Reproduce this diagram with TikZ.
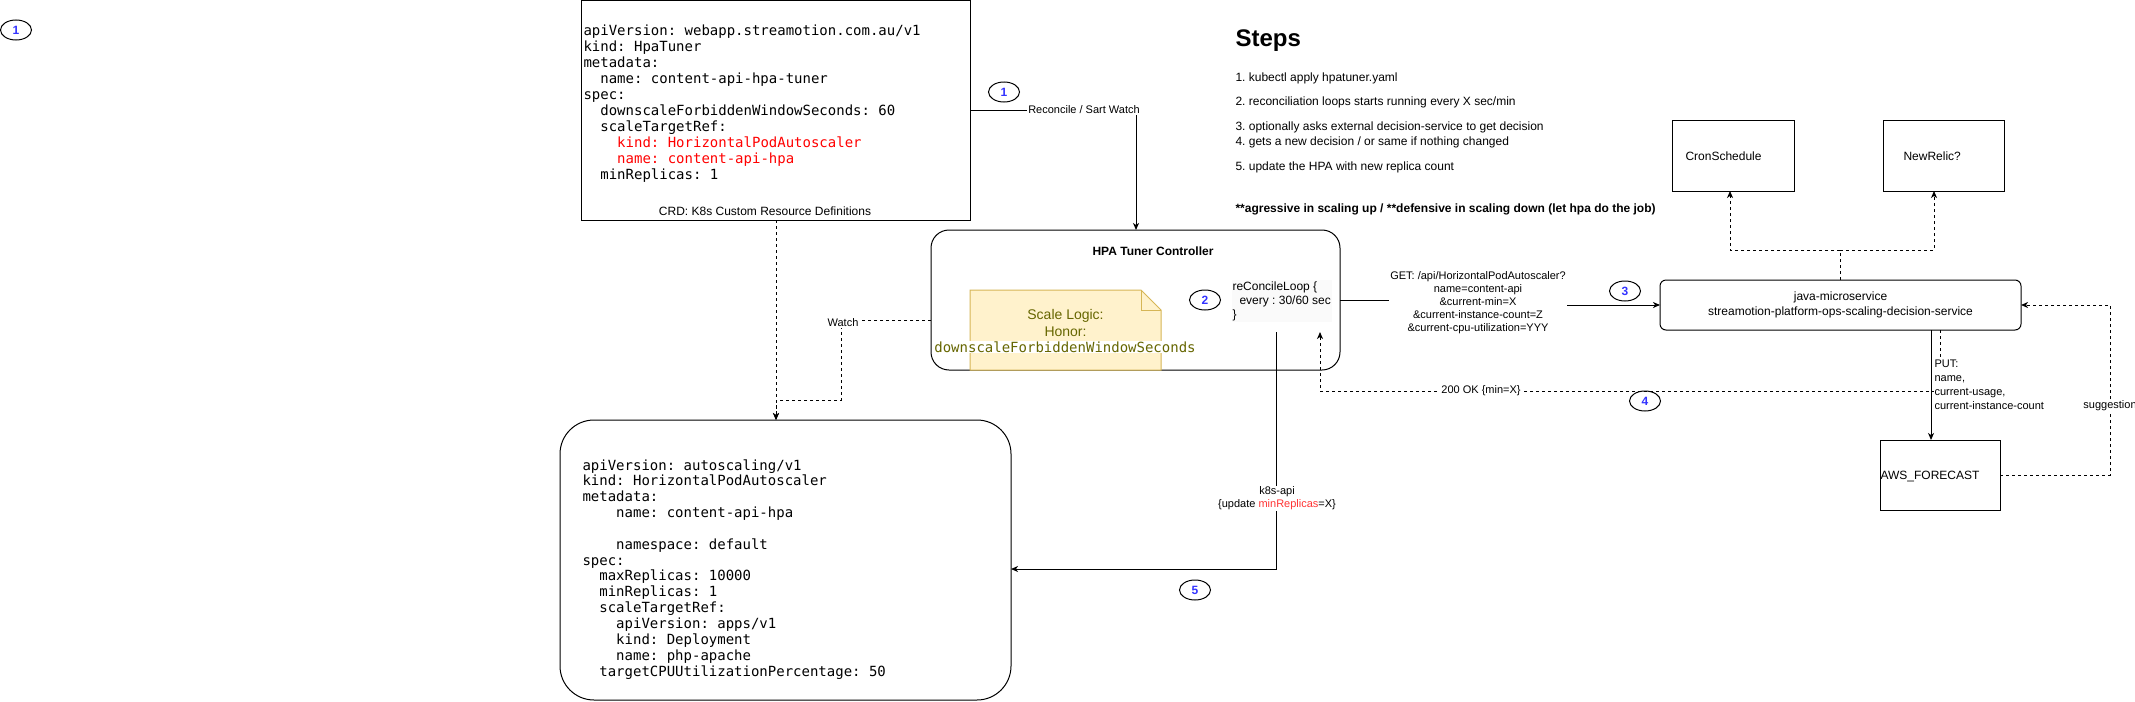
\documentclass[tikz,border=0pt]{standalone}
\usepackage{fontspec}
\setmainfont{Liberation Sans}
\setsansfont{Liberation Sans}
\setmonofont{DejaVu Sans Mono}
\usetikzlibrary{arrows.meta,shapes.geometric,calc}
\definecolor{numblue}{HTML}{3333FF}
\definecolor{notefill}{HTML}{FFF2CC}
\definecolor{notedraw}{HTML}{D6B656}
\definecolor{notetext}{HTML}{666600}
\definecolor{codered}{HTML}{FF0000}
\definecolor{labred}{HTML}{FF3333}
\newcommand\myfs[2]{\fontsize{#1}{#2}\selectfont}
\frenchspacing
\begin{document}
\begin{tikzpicture}[x=1pt,y=-1pt,line width=1pt,
  box/.style 2 args={draw, inner sep=0, outer sep=0, minimum width=#1, minimum height=#2},
  num/.style={draw, ellipse, minimum width=31pt, minimum height=20pt, inner sep=0, text=numblue, font=\myfs{12}{14}\bfseries},
  lab/.style={fill=white, inner sep=1pt, font=\myfs{11}{13}},
  conn/.style={draw, line width=1pt},
  arr/.style={-{Stealth[length=7pt,width=6pt,inset=2pt]}},
  dsh/.style={dash pattern=on 3pt off 3pt},
  code/.style={font=\ttfamily\myfs{14}{16}, align=left, inner sep=0, anchor=north west},
  txt/.style={inner sep=0, font=\myfs{12}{14}}]
\fill[white] (0,0) rectangle (2135,701);
\useasboundingbox (0,0) rectangle (2135,701);

% boxes
\node[box={389pt}{219pt}] (crd) at (775.5,110.5) {};
\node[box={409pt}{140pt}, rounded corners=18pt] (ctrl) at (1135.5,300) {};
\node[box={451pt}{280pt}, rounded corners=34pt] (hpa) at (785.5,560) {};
\node[box={361pt}{50pt}, rounded corners=6pt, align=center, font=\myfs{12}{15}] (java) at (1840.5,305)
  {java-microservice\\streamotion-platform-ops-scaling-decision-service};
\node[box={122pt}{71pt}] (cron) at (1733,155.5) {};
\node[box={121pt}{71pt}] (newrelic) at (1943.5,155.5) {};
\node[box={120pt}{70pt}] (aws) at (1940,475) {};

% box texts
\node[code] (crdtext) at (583,23.3) {\strut apiVersion: webapp.streamotion.com.au/v1\\
kind: HpaTuner\\
metadata:\\
\phantom{00}name: content-api-hpa-tuner\\
spec:\\
\phantom{00}downscaleForbiddenWindowSeconds: 60\\
\phantom{00}scaleTargetRef:\\
\phantom{0000}\textcolor{codered}{kind: HorizontalPodAutoscaler}\\
\phantom{0000}\textcolor{codered}{name: content-api-hpa}\\
\phantom{00}minReplicas: 1};
\node[txt] (crdlabel) at (765,211) {CRD: K8s Custom Resource Definitions};

\node[code, font=\ttfamily\myfs{14}{15.85}] (hpatext) at (582,458.4) {\strut apiVersion: autoscaling/v1\\
kind: HorizontalPodAutoscaler\\
metadata:\\
\phantom{0000}name: content-api-hpa\\[15.85pt]
\phantom{0000}namespace: default\\
spec:\\
\phantom{00}maxReplicas: 10000\\
\phantom{00}minReplicas: 1\\
\phantom{00}scaleTargetRef:\\
\phantom{0000}apiVersion: apps/v1\\
\phantom{0000}kind: Deployment\\
\phantom{0000}name: php-apache\\
\phantom{00}targetCPUUtilizationPercentage: 50};

\node[txt, font=\bfseries\myfs{12}{14}] (ctrltitle) at (1153,251) {HPA Tuner Controller};

% note
\draw[notedraw, fill=notefill] (970,290) -- (1141,290) -- (1161,310) -- (1161,370) -- (970,370) -- cycle;
\draw[notedraw] (1141,290) -- (1141,310) -- (1161,310);
\node[txt, font=\myfs{14}{16}, text=notetext] (nt1) at (1065.5,316) {Scale Logic:};
\node[txt, font=\myfs{14}{16}, text=notetext] (nt2) at (1065.5,332) {Honor:};
\node[txt, font=\ttfamily\myfs{14}{16}, text=notetext, fill=white, inner sep=0.5pt] (nt3) at (1065,347) {downscaleForbiddenWindowSeconds};

\node[anchor=west, align=left, font=\myfs{12}{14}, fill=gray!4, inner sep=1pt] (loop) at (1231,301)
  {reConcileLoop \{\\\hspace*{7pt}every : 30/60 sec\\\}};

\node[txt, anchor=west] (crontext) at (1685,156) {CronSchedule};
\node[txt, anchor=west] (nrtext) at (1903,156) {NewRelic?};
\node[txt, anchor=west] (awstext) at (1880,476) {AWS\_FORECAST};

% steps
\node[txt, anchor=west, font=\bfseries\myfs{24}{28}] (steps) at (1235,41) {Steps};
\node[txt, anchor=west] (st1) at (1235,78) {1. kubectl apply hpatuner.yaml};
\node[txt, anchor=west] (st2) at (1235,102) {2. reconciliation loops starts running every X sec/min};
\node[txt, anchor=west] (st3) at (1235,127) {3. optionally asks external decision-service to get decision};
\node[txt, anchor=west] (st4) at (1235,142) {4. gets a new decision / or same if nothing changed};
\node[txt, anchor=west] (st5) at (1235,167) {5. update the HPA with new replica count};
\node[txt, anchor=west, font=\bfseries\myfs{12}{14}] (st6) at (1235,209) {**agressive in scaling up / **defensive in scaling down (let hpa do the job)};

% connectors
\coordinate (c1) at (1136,110);
\draw[conn,arr] (crd.east |- c1) -- (c1) -- (c1 |- ctrl.north);
\node[lab] (l1) at (1084,110) {Reconcile / Sart Watch};

\coordinate (c2) at (776,0);
\draw[conn,dsh,arr] (c2 |- crd.south) -- (c2 |- hpa.north);

\coordinate (w1) at (841,320);
\coordinate (w2) at (841,400);
\coordinate (w3) at (776,400);
\draw[conn,dsh,arr] (ctrl.west |- w1) -- (w1) -- (w2) -- (w3) -- (w3 |- hpa.north);
\node[lab] (l2) at (843,323) {Watch};

\coordinate (g1) at (1478,300);
\coordinate (g2) at (1478,305);
\draw[conn,arr] (ctrl.east |- g1) -- (g1) -- (g2) -- (g2 -| java.west);
\node[lab, align=center] (l3) at (1478,303) {GET: /api/HorizontalPodAutoscaler?\\name=content-api\\\&current-min=X\\\&current-instance-count=Z\\\&current-cpu-utilization=YYY};

\coordinate (o1) at (1940,0);
\coordinate (o2) at (1940,391);
\coordinate (o3) at (1320,391);
\coordinate (loopin) at (1320,332);
\draw[conn,dsh,arr] (o1 |- java.south) -- (o2) -- (o3) -- (loopin);
\node[lab] (l4) at (1481,391) {200 OK \{min=X\}};

\coordinate (loopout) at (1276,332);
\coordinate (k1) at (1276,569);
\draw[conn,arr] (loopout) -- (k1) -- (k1 -| hpa.east);
\node[lab, align=center] (l5) at (1277,498.5) {k8s-api\\\{update \textcolor{labred}{minReplicas}=X\}};

\coordinate (a1) at (1931,0);
\draw[conn,arr] (a1 |- java.south) -- (a1 |- aws.north);
\node[lab, align=left, anchor=west, font=\myfs{11}{14}] (l6) at (1933,385) {PUT:\\name,\\current-usage,\\current-instance-count};

\coordinate (s1) at (2110,475);
\coordinate (s2) at (2110,305);
\draw[conn,dsh,arr] (aws.east |- s1) -- (s1) -- (s2) -- (s2 -| java.east);
\node[lab] (l7) at (2110,406) {suggestion};

\coordinate (j1) at (1840,250);
\coordinate (j2) at (1730,250);
\coordinate (j3) at (1934,250);
\draw[conn,dsh,arr] (j1 |- java.north) -- (j1) -- (j2) -- (j2 |- cron.south);
\draw[conn,dsh,arr] (j1) -- (j3) -- (j3 |- newrelic.south);

% step markers
\node[num] (n1a) at (16,30) {1};
\node[num] (n1b) at (1004,92) {1};
\node[num] (n2) at (1205,300) {2};
\node[num] (n3) at (1625,291) {3};
\node[num] (n4) at (1645,401) {4};
\node[num] (n5) at (1195,590) {5};
\end{tikzpicture}
\end{document}
